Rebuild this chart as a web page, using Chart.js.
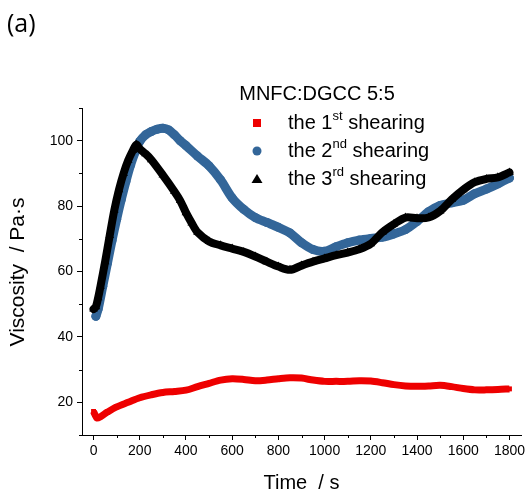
<!DOCTYPE html>
<html>
<head>
<meta charset="utf-8">
<script src="https://cdn.jsdelivr.net/npm/chart.js@4.4.0/dist/chart.umd.min.js"></script>
<style>
  html, body { margin: 0; padding: 0; background: #fff; }
  canvas { display: block; }
</style>
</head>
<body>
<canvas id="chart" width="530" height="492"></canvas>
<script>
// tick labels
const xTicks = [0, 200, 400, 600, 800, 1000, 1200, 1400, 1600, 1800];
const yTicks = [20, 40, 60, 80, 100];

// series labels
const legendTitle = 'MNFC:DGCC 5:5';
const seriesLabels = ['the 1st shearing', 'the 2nd shearing', 'the 3rd shearing'];

// 1st shearing (red squares)
const time1 = [0, 5, 15, 30, 60, 100, 150, 200, 250, 300, 350, 400, 450, 500, 550, 600, 650, 700, 750, 800, 850, 900, 950, 1000, 1050, 1100, 1150, 1200, 1250, 1300, 1350, 1400, 1450, 1500, 1550, 1600, 1650, 1700, 1750, 1800];
const visc1 = [17.2, 16.4, 15.2, 15.6, 17.0, 18.6, 20.0, 21.4, 22.3, 23.0, 23.3, 23.7, 24.8, 25.8, 26.8, 27.2, 27.0, 26.6, 26.8, 27.2, 27.5, 27.4, 26.8, 26.4, 26.4, 26.4, 26.6, 26.5, 26.0, 25.4, 25.0, 24.9, 25.0, 25.2, 24.8, 24.2, 23.8, 23.8, 23.9, 24.1];

// 2nd shearing (blue circles)
const time2 = [10, 20, 40, 60, 80, 100, 120, 140, 160, 180, 200, 225, 250, 275, 300, 325, 350, 375, 400, 450, 500, 550, 600, 650, 700, 750, 800, 850, 900, 950, 1000, 1050, 1100, 1150, 1200, 1250, 1300, 1350, 1400, 1450, 1500, 1550, 1600, 1650, 1700, 1750, 1800];
const visc2 = [46.3, 48.5, 55.5, 62.5, 69.5, 76.0, 82.0, 87.5, 92.5, 96.5, 99.8, 101.8, 102.8, 103.5, 103.8, 103.3, 101.8, 100.0, 98.5, 95.3, 92.3, 88.0, 82.5, 79.0, 76.5, 75.0, 73.5, 71.8, 68.8, 66.7, 66.2, 67.6, 68.8, 69.6, 70.1, 70.5, 71.5, 72.8, 75.3, 78.3, 80.2, 81.0, 81.8, 83.8, 85.2, 86.8, 88.6];

// 3rd shearing (black triangles)
const time3 = [0, 10, 20, 30, 50, 70, 90, 110, 130, 150, 170, 185, 200, 225, 250, 300, 350, 375, 400, 425, 450, 500, 550, 600, 650, 700, 750, 800, 850, 900, 950, 1000, 1050, 1100, 1150, 1200, 1250, 1300, 1350, 1400, 1450, 1500, 1550, 1600, 1650, 1700, 1750, 1800];
const visc3 = [48.5, 49.2, 52.0, 55.5, 63.0, 71.0, 78.8, 85.0, 90.0, 94.0, 97.0, 98.8, 97.5, 96.0, 94.2, 89.5, 84.5, 81.7, 78.0, 74.8, 72.0, 69.2, 68.0, 67.0, 66.0, 64.6, 63.0, 61.5, 60.5, 61.8, 63.0, 64.0, 65.0, 65.8, 66.8, 68.5, 72.0, 74.5, 76.5, 76.3, 76.5, 78.5, 82.0, 85.0, 87.3, 88.3, 88.8, 90.3];

const toPoints = (xs, ys) => xs.map((x, i) => ({ x: x, y: ys[i] }));

const FONT = '"Liberation Sans", Arial, sans-serif';

// minor ticks, axis titles, panel letter and the legend with superscripts
const decorPlugin = {
  id: 'decor',
  afterDraw(chart) {
    const ctx = chart.ctx;
    const xs = chart.scales.x, ys = chart.scales.y;
    const area = chart.chartArea;
    ctx.save();
    ctx.strokeStyle = '#000';
    ctx.lineWidth = 1;
    // minor ticks
    ctx.beginPath();
    for (let v = 100; v <= 1800; v += 200) {
      const px = Math.round(xs.getPixelForValue(v)) + 0.5;
      ctx.moveTo(px, area.bottom);
      ctx.lineTo(px, area.bottom + 3);
    }
    for (let v = 10; v <= 110; v += 20) {
      const py = Math.round(ys.getPixelForValue(v)) + 0.5;
      ctx.moveTo(area.left, py);
      ctx.lineTo(area.left - 3, py);
    }
    ctx.stroke();

    // axis titles
    ctx.fillStyle = '#000';
    ctx.font = '20px ' + FONT;
    ctx.textAlign = 'center';
    ctx.textBaseline = 'middle';
    ctx.fillText('Time  / s', (area.left + area.right) / 2, 483);
    ctx.save();
    ctx.translate(18, 272);
    ctx.rotate(-Math.PI / 2);
    ctx.font = '21px ' + FONT;
    ctx.fillText('Viscosity  / Pa\u00b7s', 0, 0);
    ctx.restore();

    // panel letter
    ctx.font = '25px "Open Sans", sans-serif';
    ctx.textAlign = 'left';
    ctx.fillText('(a)', 7, 25);

    // legend
    ctx.font = '20px ' + FONT;
    ctx.textAlign = 'center';
    ctx.fillText(legendTitle, 317, 94);
    const rowY = [123, 151, 179];
    chart.data.datasets.forEach((ds, i) => {
      const y = rowY[i];
      const mx = 257;
      ctx.fillStyle = ds.backgroundColor;
      ctx.beginPath();
      if (ds.pointStyle === 'rect') {
        ctx.rect(mx - 4, y - 4, 8, 8);
      } else if (ds.pointStyle === 'circle') {
        ctx.arc(mx, y, 4.5, 0, Math.PI * 2);
      } else {
        ctx.moveTo(mx, y - 5);
        ctx.lineTo(mx + 5.5, y + 4);
        ctx.lineTo(mx - 5.5, y + 4);
        ctx.closePath();
      }
      ctx.fill();
      // label with superscript ordinal suffix
      const m = ds.label.match(/^(.*?\d)(st|nd|rd|th)(.*)$/);
      const parts = m ? [m[1], m[2], m[3]] : [ds.label, '', ''];
      ctx.fillStyle = '#000';
      ctx.textAlign = 'left';
      let x = 288;
      ctx.font = '20px ' + FONT;
      ctx.fillText(parts[0], x, y);
      x += ctx.measureText(parts[0]).width;
      ctx.font = '13px ' + FONT;
      ctx.fillText(parts[1], x, y - 7);
      x += ctx.measureText(parts[1]).width;
      ctx.font = '20px ' + FONT;
      ctx.fillText(parts[2], x, y);
    });
    ctx.restore();
  }
};

const ctx = document.getElementById('chart').getContext('2d');
new Chart(ctx, {
  type: 'scatter',
  data: {
    datasets: [
      {
        label: seriesLabels[0],
        data: toPoints(time1, visc1),
        order: 2,
        showLine: true,
        borderColor: '#ee0000',
        backgroundColor: '#ee0000',
        borderWidth: 7,
        pointStyle: 'rect',
        pointRadius: 3.5,
        pointBorderWidth: 0,
        borderCapStyle: 'butt',
        borderJoinStyle: 'round',
        tension: 0.3
      },
      {
        label: seriesLabels[1],
        data: toPoints(time2, visc2),
        order: 1,
        showLine: true,
        borderColor: '#336699',
        backgroundColor: '#336699',
        borderWidth: 9,
        pointStyle: 'circle',
        pointRadius: 4.5,
        pointBorderWidth: 0,
        borderCapStyle: 'round',
        borderJoinStyle: 'round',
        tension: 0.3
      },
      {
        label: seriesLabels[2],
        data: toPoints(time3, visc3),
        order: 0,
        showLine: true,
        borderColor: '#000000',
        backgroundColor: '#000000',
        borderWidth: 8,
        pointStyle: 'triangle',
        pointRadius: 5,
        pointBorderWidth: 0,
        borderCapStyle: 'round',
        borderJoinStyle: 'round',
        tension: 0.3
      }
    ]
  },
  options: {
    responsive: false,
    animation: false,
    devicePixelRatio: 1,
    layout: { padding: { left: 0, top: 108, right: 9, bottom: 0 } },
    plugins: {
      legend: { display: false },
      tooltip: { enabled: false }
    },
    scales: {
      x: {
        type: 'linear',
        min: -50,
        max: 1850,
        afterBuildTicks: scale => { scale.ticks = xTicks.map(v => ({ value: v })); },
        afterFit: scale => { scale.height = 57; },
        grid: {
          drawOnChartArea: false,
          tickLength: 5,
          tickColor: '#000',
          tickWidth: 1
        },
        border: { color: '#000', width: 1 },
        ticks: {
          color: '#000',
          padding: 3,
          maxRotation: 0,
          autoSkip: false,
          callback: v => String(v),
          font: { family: FONT, size: 14 }
        }
      },
      y: {
        type: 'linear',
        min: 10,
        max: 110,
        afterBuildTicks: scale => { scale.ticks = yTicks.map(v => ({ value: v })); },
        afterFit: scale => { scale.width = 82; },
        grid: {
          drawOnChartArea: false,
          tickLength: 5,
          tickColor: '#000',
          tickWidth: 1
        },
        border: { color: '#000', width: 1 },
        ticks: {
          color: '#000',
          padding: 4,
          autoSkip: false,
          callback: v => String(v),
          font: { family: FONT, size: 14 }
        }
      }
    }
  },
  plugins: [decorPlugin]
});
</script>
</body>
</html>
